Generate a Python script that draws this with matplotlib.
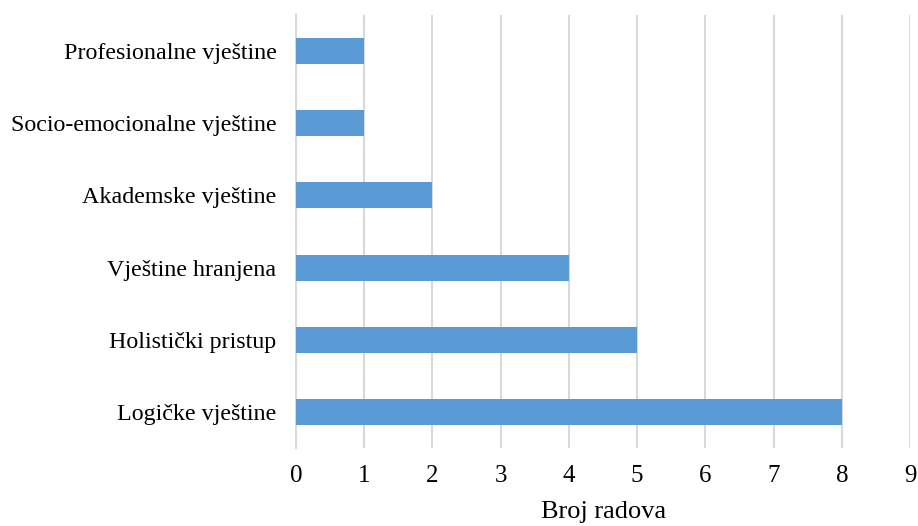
import matplotlib.pyplot as plt

plt.rcParams['font.family'] = ['Liberation Serif', 'DejaVu Serif']

# Podaci
kategorije = ['Logičke vještine', 'Holistički pristup', 'Vještine hranjena',
              'Akademske vještine', 'Socio-emocionalne vještine', 'Profesionalne vještine']
broj_radova = [8, 5, 4, 2, 1, 1]
x_ticks = list(range(0, 10))

fig = plt.figure(figsize=(9.18, 5.26), dpi=100)
ax = fig.add_axes([0.3224, 0.1483, 0.6691, 0.8232])

ax.barh(kategorije, broj_radova, height=0.36, color='#5B9BD5', zorder=3)

ax.set_xlim(0, 9)
ax.set_ylim(-0.5, len(kategorije) - 0.5)
ax.set_xticks(x_ticks)
ax.grid(axis='x', color='#d9d9d9', linewidth=1.5, zorder=0)
for s in ['top', 'right', 'bottom']:
    ax.spines[s].set_visible(False)
ax.spines['left'].set_color('#d9d9d9')
ax.spines['left'].set_linewidth(1.5)
ax.tick_params(axis='both', length=0, labelsize=17.3, colors='black')
ax.tick_params(axis='x', labelsize=18, pad=12)
ax.tick_params(axis='y', pad=14)
ax.set_xlabel('Broj radova', fontsize=19, labelpad=10)

fig.savefig('out.png', dpi=100)
